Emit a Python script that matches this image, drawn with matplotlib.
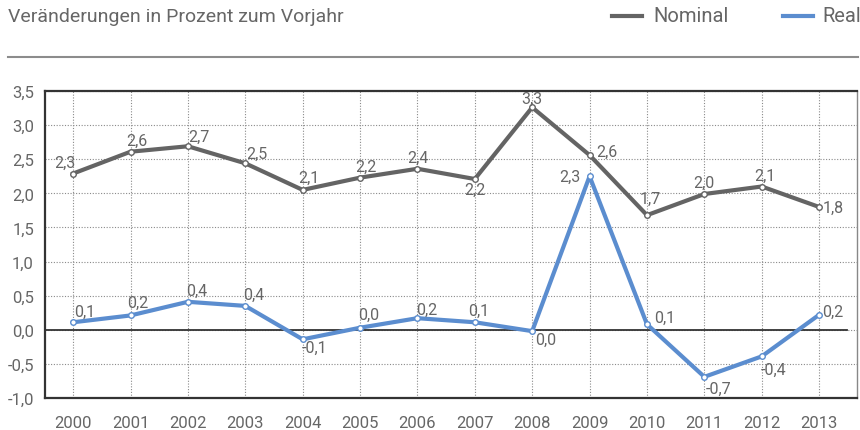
import matplotlib.pyplot as plt
from matplotlib.ticker import FuncFormatter, MultipleLocator
from matplotlib.lines import Line2D

plt.rcParams['font.family'] = ['Roboto', 'DejaVu Sans']

years = list(range(2000, 2014))
nominal = [2.29, 2.61, 2.69, 2.44, 2.05, 2.23, 2.36, 2.21, 3.26, 2.56, 1.68, 1.99, 2.10, 1.80]
real = [0.11, 0.21, 0.41, 0.35, -0.14, 0.03, 0.17, 0.11, -0.02, 2.25, 0.08, -0.69, -0.39, 0.22]
nominal_labels = ['2,3', '2,6', '2,7', '2,5', '2,1', '2,2', '2,4', '2,2', '3,3', '2,6', '1,7', '2,0', '2,1', '1,8']
real_labels = ['0,1', '0,2', '0,4', '0,4', '-0,1', '0,0', '0,2', '0,1', '0,0', '2,3', '0,1', '-0,7', '-0,4', '0,2']

# label offsets in pixels (dx, dy)
nom_off = [(-8, 11), (6, 11), (11, 10), (12, 10), (6, 13), (6, 11), (0, 11), (0, -10),
           (0, 9), (17, 4), (3, 17), (0, 12), (3, 11), (14, 0)]
real_off = [(12, 11), (7, 13), (9, 11), (8, 12), (12, -8), (9, 13), (9, 9), (4, 12),
            (13, -8), (-20, 0), (18, 7), (14, -11), (12, -13), (14, 3)]

c_nom = '#646464'
c_real = '#5b8dcf'
c_text = '#666666'

fig = plt.figure(figsize=(8.6, 4.31), dpi=100)
ax = fig.add_axes([45 / 860, 32 / 431, 812 / 860, 307 / 431])

x = list(range(len(years)))
ax.plot(x, nominal, color=c_nom, lw=3, marker='o', ms=4, mfc='white', mec=c_nom, mew=1, zorder=4)
ax.plot(x, real, color=c_real, lw=3, marker='o', ms=4, mfc='white', mec=c_real, mew=1, zorder=4)

for i in x:
    ax.annotate(nominal_labels[i], (i, nominal[i]), xytext=nom_off[i], textcoords='offset pixels',
                ha='center', va='center', fontsize=11.5, color=c_text, zorder=5)
    ax.annotate(real_labels[i], (i, real[i]), xytext=real_off[i], textcoords='offset pixels',
                ha='center', va='center', fontsize=11.5, color=c_text, zorder=5)

ax.set_xlim(-0.49, 13.66)
ax.set_ylim(-1.0, 3.5)
ax.set_xticks(x)
ax.set_xticklabels([str(y) for y in years])
ax.yaxis.set_major_locator(MultipleLocator(0.5))
ax.yaxis.set_major_formatter(FuncFormatter(lambda v, p: f'{v:.1f}'.replace('.', ',')))
ax.tick_params(length=0, labelsize=12, colors=c_text)
ax.tick_params(axis='x', pad=12)
ax.tick_params(axis='y', pad=8)

ax.grid(True, color='#8a8a8a', linestyle=(0, (1, 1.5)), linewidth=0.8)
ax.axhline(0, xmax=0.988, color='#333333', lw=1.3, zorder=3)

for s in ['left', 'top', 'bottom']:
    ax.spines[s].set_color('#333333')
    ax.spines[s].set_linewidth(1.6)
ax.spines['right'].set_color('#888888')
ax.spines['right'].set_linewidth(1)

fig.text(8 / 860, 1 - 17 / 431, 'Veränderungen in Prozent zum Vorjahr', fontsize=14,
         color=c_text, ha='left', va='center')
fig.add_artist(Line2D([8 / 860, 858 / 860], [1 - 58 / 431] * 2, color='#8c8c8c', lw=1.5))

fig.add_artist(Line2D([612 / 860, 642 / 860], [1 - 17 / 431] * 2, color=c_nom, lw=3))
fig.text(653 / 860, 1 - 17 / 431, 'Nominal', fontsize=14.5, color=c_text, ha='left', va='center')
fig.add_artist(Line2D([783 / 860, 813 / 860], [1 - 17 / 431] * 2, color=c_real, lw=3))
fig.text(822 / 860, 1 - 17 / 431, 'Real', fontsize=14.5, color=c_text, ha='left', va='center')

fig.savefig('out.png', dpi=100)
